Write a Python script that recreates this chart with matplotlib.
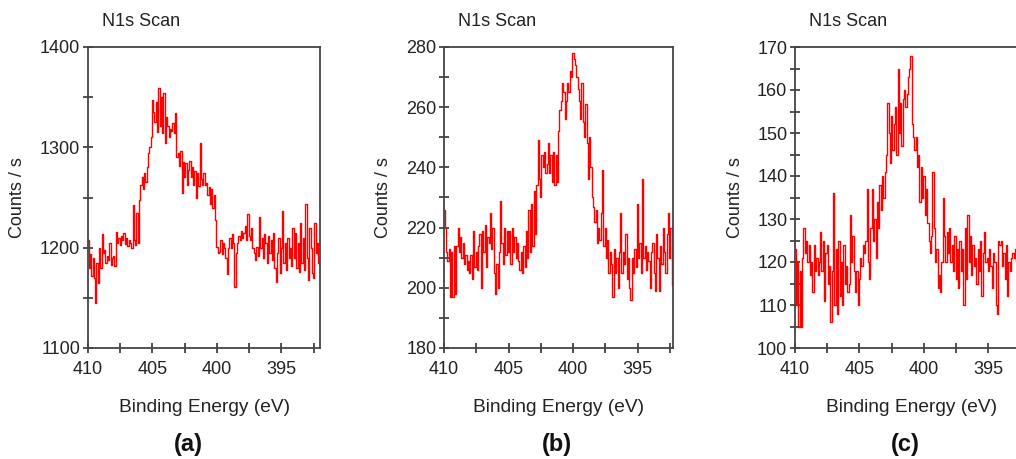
"""
N1s XPS scans for three samples, three panels side by side.
"""

import matplotlib
matplotlib.use("Agg")
import matplotlib.pyplot as plt
from matplotlib.ticker import MultipleLocator
import numpy as np

plt.rcParams["font.family"] = ["Liberation Sans", "DejaVu Sans"]

# counts per second, sampled every 0.1 eV from 410 eV downwards (one row per eV)
counts_a = [1208, 1180, 1194, 1172, 1190, 1170, 1145, 1185, 1165, 1200,
            1180, 1214, 1195, 1198, 1185, 1192, 1188, 1205, 1183, 1190,
            1192, 1182, 1216, 1205, 1210, 1203, 1212, 1208, 1215, 1204,
            1210, 1202, 1208, 1205, 1200, 1243, 1208, 1203, 1235, 1205,
            1248, 1262, 1270, 1258, 1274, 1265, 1280, 1294, 1300, 1310,
            1347, 1335, 1325, 1345, 1315, 1359, 1321, 1350, 1314, 1354,
            1304, 1330, 1321, 1310, 1318, 1316, 1324, 1314, 1334, 1290,
            1294, 1281, 1296, 1254, 1285, 1270, 1284, 1262, 1277, 1286,
            1270, 1280, 1262, 1276, 1250, 1274, 1261, 1304, 1268, 1262,
            1274, 1262, 1264, 1252, 1260, 1244, 1258, 1240, 1252, 1228,
            1201, 1195, 1196, 1208, 1194, 1205, 1200, 1190, 1174, 1200,
            1210, 1200, 1214, 1205, 1161, 1195, 1205, 1212, 1208, 1217,
            1210, 1215, 1222, 1208, 1234, 1212, 1208, 1220, 1200, 1195,
            1188, 1201, 1192, 1231, 1200, 1210, 1190, 1214, 1205, 1185,
            1212, 1195, 1208, 1188, 1215, 1180, 1166, 1195, 1210, 1175,
            1200, 1237, 1185, 1205, 1178, 1210, 1190, 1200, 1182, 1220,
            1190, 1215, 1180, 1205, 1176, 1225, 1185, 1210, 1178, 1244,
            1190, 1168, 1220, 1200, 1175, 1170, 1225, 1195, 1205, 1185, 1190]

counts_b = [226, 220, 212, 209, 213, 197, 212, 197, 214, 198,
            214, 220, 212, 217, 210, 215, 208, 211, 206, 209,
            205, 211, 203, 219, 207, 212, 206, 214, 218, 200,
            219, 212, 221, 207, 217, 215, 225, 213, 220, 205,
            198, 208, 200, 212, 229, 215, 208, 220, 211, 219,
            212, 219, 208, 220, 212, 217, 210, 215, 209, 206,
            212, 205, 214, 207, 219, 210, 226, 212, 228, 214,
            232, 218, 234, 249, 236, 230, 244, 240, 245, 238,
            241, 248, 238, 244, 235, 245, 234, 244, 235, 252,
            259, 262, 268, 265, 256, 262, 268, 265, 272, 270,
            278, 276, 274, 270, 266, 262, 256, 268, 255, 250,
            261, 248, 236, 250, 240, 230, 227, 222, 226, 215,
            220, 216, 225, 239, 214, 220, 210, 216, 205, 212,
            208, 197, 213, 205, 210, 200, 212, 225, 205, 212,
            208, 218, 203, 210, 200, 196, 210, 205, 213, 207,
            228, 210, 215, 205, 236, 210, 214, 206, 212, 209,
            200, 212, 215, 205, 199, 218, 210, 199, 214, 208,
            220, 212, 205, 218, 225, 210, 220, 201, 208]

counts_c = [123, 110, 120, 105, 118, 105, 121, 128, 122, 125,
            120, 124, 117, 120, 113, 124, 118, 121, 117, 120,
            127, 118, 125, 111, 122, 124, 115, 119, 106, 118,
            136, 110, 123, 108, 125, 112, 120, 110, 124, 115,
            119, 113, 115, 131, 120, 126, 118, 113, 118, 110,
            116, 121, 119, 124, 122, 125, 137, 120, 116, 128,
            137, 125, 130, 121, 134, 128, 138, 132, 140, 135,
            141, 145, 157, 150, 143, 154, 146, 152, 156, 145,
            165, 150, 157, 147, 158, 160, 156, 159, 163, 165,
            168, 152, 149, 146, 149, 142, 145, 134, 142, 135,
            140, 131, 137, 129, 125, 122, 126, 141, 128, 120,
            123, 114, 117, 113, 120, 135, 126, 120, 127, 122,
            128, 120, 124, 118, 126, 116, 123, 114, 125, 118,
            123, 110, 128, 116, 131, 120, 126, 117, 124, 119,
            121, 115, 123, 118, 125, 112, 122, 127, 120, 121,
            118, 123, 119, 114, 122, 120, 110, 108, 125, 124,
            125, 119, 122, 116, 124, 112, 120, 118, 121, 122,
            121, 123, 120, 122, 124, 121, 123, 120, 122, 121, 123]

panels = [
    (counts_a, (1100, 1400), 100, 50, 392.0, "(a)"),
    (counts_b, (180, 280), 20, 10, 392.25, "(b)"),
    (counts_c, (100, 170), 10, 5, 392.0, "(c)"),
]

W, H = 1016, 459
fig = plt.figure(figsize=(W / 100, H / 100), dpi=100)

lefts = [88, 444, 795]
ylab_x = [18, 383, 735]
tag_x = [188, 557, 905]
for (counts, ylim, major, minor, xend, tag), left, ylx, tx in zip(panels, lefts, ylab_x, tag_x):
    width_px = (410 - xend) * 12.9
    ax = fig.add_axes([left / W, 1 - 348 / H, width_px / W, 301 / H])
    energy = np.linspace(410, 410 - 0.1 * (len(counts) - 1), len(counts))
    ax.plot(energy, counts, color="#ff0000", lw=1.0, drawstyle="steps-mid")
    ax.set_xlim(410, xend)
    ax.set_ylim(*ylim)
    ax.xaxis.set_major_locator(MultipleLocator(5))
    ax.xaxis.set_minor_locator(MultipleLocator(2.5))
    ax.yaxis.set_major_locator(MultipleLocator(major))
    ax.yaxis.set_minor_locator(MultipleLocator(minor))
    ax.tick_params(which="both", direction="inout", length=7, width=1.2,
                   color="#333333", labelsize=13, labelcolor="#222222")
    ax.tick_params(axis="x", pad=6)
    ax.tick_params(axis="y", pad=2)
    for sp in ax.spines.values():
        sp.set_color("#444444")
        sp.set_linewidth(1.3)

    cx = (left + width_px / 2) / W
    fig.text((left + 14) / W, 1 - 22 / H, "N1s Scan", fontsize=13,
             color="#222222", va="center", ha="left")
    fig.text(ylx / W, 1 - 198 / H, "Counts / s", fontsize=13,
             color="#222222", rotation=90, va="center", ha="center")
    fig.text(cx, 1 - 408 / H, "Binding Energy (eV)", fontsize=13.8,
             color="#222222", va="center", ha="center")
    fig.text(tx / W, 1 - 445 / H, tag, fontsize=17, fontweight="bold",
             color="#111111", va="center", ha="center")

fig.savefig("out.png", dpi=100)
